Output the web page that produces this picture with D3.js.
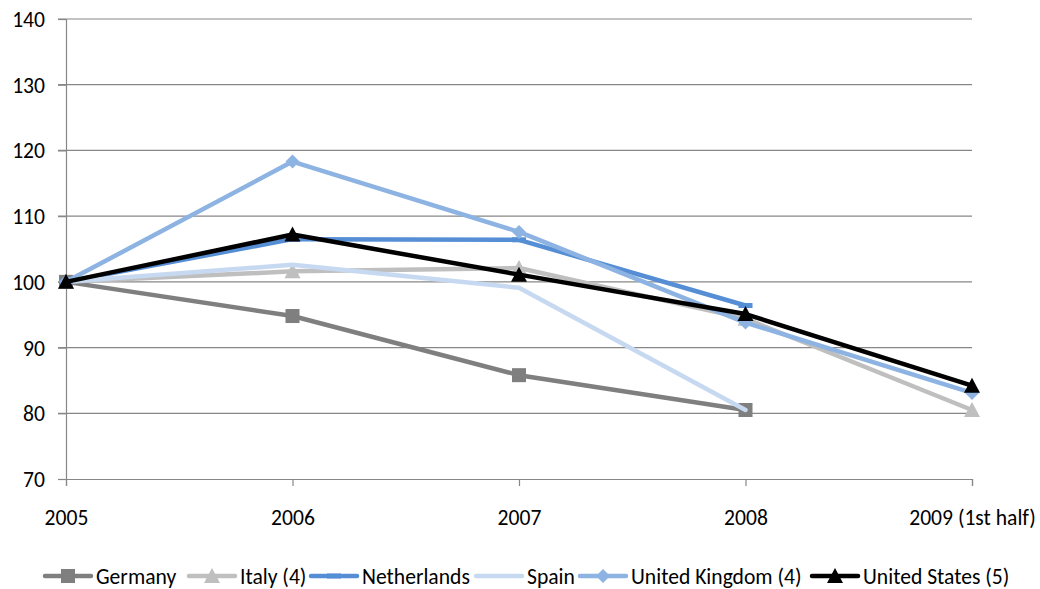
<!DOCTYPE html>
<html>
<head>
<meta charset="utf-8">
<script src="https://cdn.jsdelivr.net/npm/d3@7"></script>
<style>
  html, body { margin: 0; padding: 0; background: #fff; }
  svg text { font-family: Carlito, Lato, "Open Sans", sans-serif; fill: #000; }
</style>
</head>
<body>
<svg id="chart" width="1040" height="589"></svg>
<script>
// Index values (2005 = 100)
const categories = ["2005", "2006", "2007", "2008", "2009 (1st half)"];
const yTicks = [70, 80, 90, 100, 110, 120, 130, 140];

const germany     = [100, 94.8, 85.8, 80.5, null];
const italy       = [100, 101.6, 102.1, 94.4, 80.5];
const netherlands = [100, 106.5, 106.4, 96.4, null];
const spain       = [100, 102.6, 99.1, 80.5, null];
const unitedKingdom = [100, 118.3, 107.6, 93.8, 83.1];
const unitedStates  = [100, 107.2, 101.1, 95.1, 84.2];

const seriesNames  = ["Germany", "Italy (4)", "Netherlands", "Spain", "United Kingdom (4)", "United States (5)"];
const seriesValues = [germany, italy, netherlands, spain, unitedKingdom, unitedStates];
const seriesColors = ["#7f7f7f", "#bfbfbf", "#558ed5", "#c6d9f1", "#8db3e2", "#000000"];
const seriesMarkers = ["square", "triangle", "dash", "none", "diamond", "triangle"];

const svg = d3.select("#chart");
const plotLeft = 66, plotRight = 972, plotTop = 19, plotBottom = 479;
const fontSize = 21.6;

const x = d3.scalePoint().domain(categories).range([plotLeft, plotRight]);
const y = d3.scaleLinear().domain([70, 140]).range([plotBottom, plotTop]);

// Horizontal gridlines
svg.append("g")
  .selectAll("line").data(yTicks.filter(t => t > 70)).join("line")
  .attr("x1", plotLeft - 8).attr("x2", plotRight)
  .attr("y1", d => y(d)).attr("y2", d => y(d))
  .attr("stroke", "#878787").attr("stroke-width", 1.2);

// Y axis
const yAxis = svg.append("g").attr("transform", `translate(${plotLeft},0)`)
  .call(d3.axisLeft(y).tickValues(yTicks).tickSize(8).tickPadding(12));
yAxis.select(".domain").attr("stroke", "#878787").attr("stroke-width", 1.2);
yAxis.selectAll(".tick line").attr("stroke", "#878787").attr("stroke-width", 1.2);
yAxis.selectAll("text").attr("font-size", fontSize).attr("x", -21).attr("dy", "0.35em");

// X axis
const xAxis = svg.append("g").attr("transform", `translate(0,${plotBottom})`)
  .call(d3.axisBottom(x).tickSize(7));
xAxis.select(".domain").attr("stroke", "#878787").attr("stroke-width", 1.2);
xAxis.selectAll(".tick line").attr("stroke", "#878787").attr("stroke-width", 1.2);
xAxis.selectAll("text").attr("font-size", fontSize).attr("y", 46).attr("dy", 0);

function drawMarker(g, kind, cx, cy, color) {
  if (kind === "square") {
    g.append("rect").attr("x", cx - 7).attr("y", cy - 7).attr("width", 14).attr("height", 14).attr("fill", color);
  } else if (kind === "triangle") {
    g.append("path").attr("d", `M${cx},${cy - 8}L${cx + 8},${cy + 7}L${cx - 8},${cy + 7}Z`).attr("fill", color);
  } else if (kind === "diamond") {
    g.append("path").attr("d", `M${cx},${cy - 7}L${cx + 7},${cy}L${cx},${cy + 7}L${cx - 7},${cy}Z`).attr("fill", color);
  } else if (kind === "dash") {
    g.append("rect").attr("x", cx - 7).attr("y", cy - 2.5).attr("width", 14).attr("height", 5).attr("fill", color);
  }
}

const line = d3.line()
  .defined(d => d.v != null)
  .x(d => x(d.c)).y(d => y(d.v));

seriesValues.forEach((vals, i) => {
  const pts = vals.map((v, j) => ({ c: categories[j], v }));
  const g = svg.append("g");
  g.append("path").datum(pts).attr("d", line)
    .attr("fill", "none").attr("stroke", seriesColors[i])
    .attr("stroke-width", 4.5).attr("stroke-linejoin", "round").attr("stroke-linecap", "round");
  pts.filter(p => p.v != null).forEach(p => drawMarker(g, seriesMarkers[i], x(p.c), y(p.v), seriesColors[i]));
});

// Legend
const legendX = [45, 189, 311, 476, 580, 812];
const legendY = 576;
const legend = svg.append("g");
seriesNames.forEach((name, i) => {
  const g = legend.append("g");
  const x0 = legendX[i];
  g.append("line").attr("x1", x0).attr("x2", x0 + 46).attr("y1", legendY).attr("y2", legendY)
    .attr("stroke", seriesColors[i]).attr("stroke-width", 4.5).attr("stroke-linecap", "round");
  drawMarker(g, seriesMarkers[i], x0 + 23, legendY, seriesColors[i]);
  g.append("text").attr("x", x0 + 51).attr("y", legendY).attr("dy", "0.35em")
    .attr("font-size", fontSize).text(name);
});
</script>
</body>
</html>
